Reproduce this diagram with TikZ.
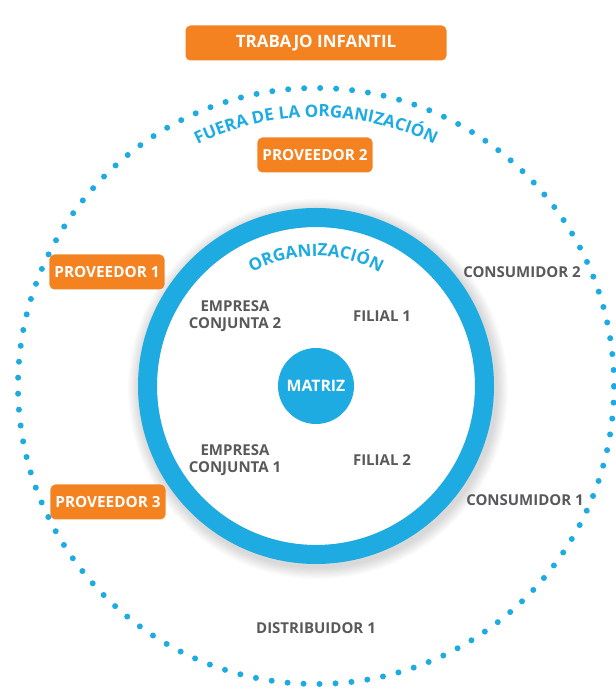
\documentclass[tikz,border=0pt]{standalone}
\usepackage{fontspec}
\setmainfont{Open Sans}
\usepackage{tikz}
\usetikzlibrary{decorations.text}
\definecolor{orng}{HTML}{F58220}
\definecolor{sky}{HTML}{1DABE2}
\definecolor{ink}{HTML}{58595B}
\tikzset{
  tag/.style={fill=orng, text=white, rounded corners=5pt, font=\bfseries\fontsize{15.3}{16}\selectfont, minimum height=35pt, inner xsep=5pt},
  party/.style={text=ink, font=\bfseries\fontsize{15}{17}\selectfont, align=center},
  dots/.style={draw=sky, line width=6pt, line cap=round, dash pattern=on 0pt off 16pt},
  ring/.style={draw=sky, line width=19pt},
}
\begin{document}
\begin{tikzpicture}[x=1pt,y=1pt]
\useasboundingbox (0,0) rectangle (616,689);
\coordinate (O) at (316,303);
\coordinate (S) at (318,300);
\foreach \k in {1,...,10} \fill[black, opacity=0.015] (S) circle (178pt+\k*1.2pt);
\fill[white] (O) circle (159pt);
\draw[ring] (O) circle (168.5pt);
\draw[dots] (O) circle (298pt);
\path[decorate, decoration={text along path, text align=center, text color=sky,
  text={|\bfseries\fontsize{17}{17}\selectfont|FUERA DE LA ORGANIZACIÓN}}]
  (O) ++(165:269pt) arc[start angle=165, end angle=15, radius=269pt];
\path[decorate, decoration={text along path, text align=center, text color=sky,
  text={|\bfseries\fontsize{17}{17}\selectfont|ORGANIZACIÓN}}]
  (O) ++(150:130pt) arc[start angle=150, end angle=30, radius=130pt];
\node[tag, minimum width=261pt, font=\bfseries\fontsize{17}{17}\selectfont] (child) at (316,646) {TRABAJO INFANTIL};
\node[tag] (prov2) at (315,534) {PROVEEDOR 2};
\node[tag] (prov1) at (107,417) {PROVEEDOR 1};
\node[tag] (prov3) at (108,187) {PROVEEDOR 3};
\node[party] (cons2) at (522,417) {CONSUMIDOR 2};
\node[party] (cons1) at (525,189) {CONSUMIDOR 1};
\node[party] (dist1) at (316,61) {DISTRIBUIDOR 1};
\node[party] (emp2) at (235,373) {EMPRESA\\CONJUNTA 2};
\node[party] (fil1) at (382,373) {FILIAL 1};
\node[party] (emp1) at (235,229) {EMPRESA\\CONJUNTA 1};
\node[party] (fil2) at (382,229) {FILIAL 2};
\node[circle, fill=sky, minimum size=76pt, text=white, font=\bfseries\fontsize{15.8}{16}\selectfont] (matriz) at (O) {MATRIZ};
\end{tikzpicture}
\end{document}
